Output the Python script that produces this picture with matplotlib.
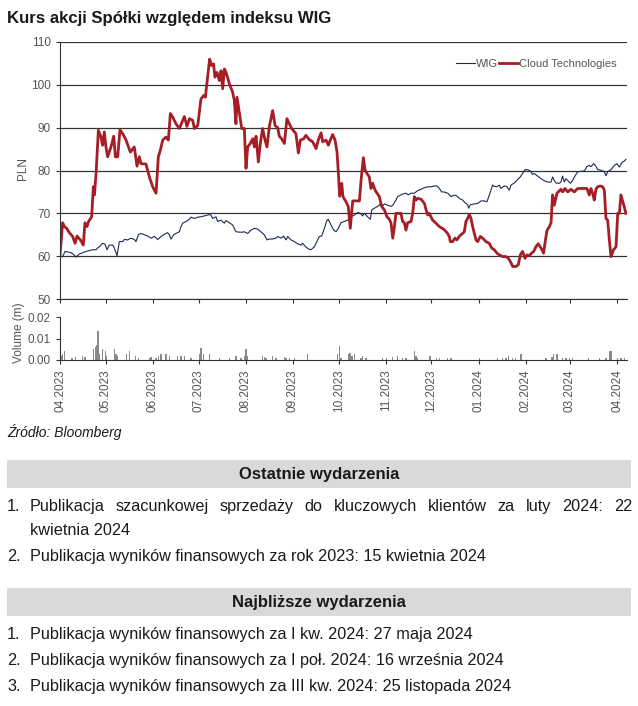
import matplotlib
matplotlib.use("Agg")
import matplotlib.pyplot as plt
import matplotlib.dates as mdates
from matplotlib.font_manager import fontManager
from matplotlib.patches import Rectangle
from matplotlib.ticker import FormatStrFormatter
import numpy as np
import pandas as pd

W, H = 638, 706
START = pd.Timestamp("2023-04-01")
END_DAY = 372.5

# Cloud Technologies close (PLN), days since 2023-04-01
CT_DAYS = [0, 1.75, 2.85, 4.4, 6.1, 8.3, 9.9, 11.2, 13.4, 15.3, 16.4, 17.7, 18.8, 20.8,
           21.9, 22.6, 23.7, 25.2, 26.9, 28.0, 29.1, 30.2, 31.3, 33.5, 35.3, 36.4, 37.9,
           39.4, 41.2, 43.4, 46.2, 48.8, 50.6, 52.1, 53.2, 56.5, 58.7, 60.9, 63.1, 64.6,
           65.9, 67.5, 69.6, 71.2, 72.5, 74.0, 76.2, 78.4, 81.7, 83.4, 85.0, 87.2, 88.3,
           90.5, 92.6, 94.4, 95.5, 97.0, 98.3, 99.6, 100.9, 101.8, 103.2, 104.7, 105.8,
           106.9, 108.0, 109.1, 111.3, 113.4, 114.5, 115.6, 116.3, 117.8, 119.4, 121.1,
           122.2, 123.3, 125.0, 126.6, 127.7, 128.8, 130.3, 131.6, 133.1, 134.7, 136.0,
           137.5, 139.7, 141.3, 143.0, 144.1, 145.6, 147.4, 149.1, 150.7, 152.2, 155.0,
           156.6, 157.9, 160.1, 161.6, 163.8, 166.0, 168.2, 169.7, 171.5, 172.6, 174.8,
           176.3, 177.6, 179.1, 180.7, 182.0, 182.9, 183.7, 185.1, 185.9, 187.9, 189.4,
           190.7, 191.6, 192.3, 196.7, 197.8, 199.3, 200.4, 201.7, 203.2, 204.3, 205.4,
           207.0, 208.3, 209.8, 211.3, 213.1, 214.8, 216.4, 217.5, 218.6, 219.7, 220.7,
           224.0, 225.1, 226.2, 227.3, 228.4, 230.6, 231.7, 232.8, 233.9, 235.0, 237.2,
           239.4, 240.5, 241.6, 242.6, 244.8, 247.0, 249.2, 252.1, 254.2, 255.8, 256.4,
           257.9, 259.5, 260.8, 262.3, 263.4, 264.5, 265.6, 266.7, 267.8, 268.9, 270.0,
           271.1, 272.2, 273.3, 274.4, 276.1, 277.7, 279.8, 282.0, 283.6, 285.3, 287.1,
           288.6, 290.8, 293.0, 294.5, 295.8, 297.4, 299.6, 301.1, 302.4, 303.9, 305.5,
           306.8, 308.3, 309.8, 311.2, 312.7, 314.2, 316.0, 317.7, 318.6, 319.9, 321.5,
           322.6, 323.6, 324.7, 326.5, 327.4, 329.1, 330.2, 331.8, 333.5, 335.7, 337.9,
           340.1, 342.3, 344.5, 346.2, 347.7, 348.8, 349.9, 351.0, 352.1, 353.2, 355.0,
           356.5, 357.6, 358.7, 359.8, 360.9, 362.0, 363.7, 365.3, 366.4, 367.5, 368.5,
           370.1, 371.8]
CT_PLN = [60.3, 67.8, 66.9, 66.5, 65.5, 64.6, 63.0, 64.7, 63.8, 62.6, 67.8, 66.9, 68.1, 69.2,
          76.2, 74.3, 79.3, 89.4, 87.8, 85.9, 89.0, 85.5, 83.2, 85.5, 88.0, 83.2, 83.2,
          89.5, 88.6, 87.1, 84.3, 85.5, 81.0, 83.2, 81.6, 81.5, 78.5, 76.2, 74.7, 83.2,
          84.7, 87.1, 87.8, 87.1, 93.3, 92.5, 90.9, 89.8, 92.6, 90.3, 92.1, 91.7, 89.8,
          90.5, 96.7, 97.5, 97.1, 101.8, 106.0, 104.5, 104.9, 101.8, 102.9, 101.0, 103.3,
          99.1, 103.7, 102.9, 100.2, 98.3, 96.4, 90.9, 97.1, 93.6, 89.8, 89.8,
          80.5, 85.5, 86.3, 87.4, 85.5, 88.0, 82.0, 86.3, 89.8, 87.1, 85.5,
          90.2, 94.0, 90.5, 90.0, 88.0, 87.4, 86.3, 92.1, 90.9, 89.8, 88.6,
          84.1, 87.1, 87.4, 88.2, 87.2, 86.7, 85.1, 87.1, 88.8, 86.7, 87.1,
          85.9, 87.1, 88.4, 87.1, 84.3, 79.3, 74.0, 77.0, 73.9, 72.7, 71.6,
          66.5, 70.0, 72.9, 72.9, 77.8, 83.0, 80.1, 79.3, 78.5, 75.8, 77.0,
          75.4, 74.7, 73.9, 71.6, 70.8, 69.2, 68.6, 67.7, 64.2, 66.9, 70.0,
          70.0, 68.1, 67.8, 66.1, 67.8, 68.1, 70.0, 73.9, 73.1, 73.5, 73.3,
          72.3, 70.8, 69.6, 70.0, 68.4, 67.7, 66.9, 66.3, 65.5, 64.6, 63.4,
          63.4, 64.2, 63.8, 64.6, 65.0, 65.3, 65.7, 68.1, 68.8, 69.8, 68.8,
          66.9, 65.3, 63.8, 63.4, 64.6, 64.2, 63.4, 63.0, 61.9, 61.5, 60.7,
          60.3, 59.9, 59.9, 59.5, 58.8, 57.6, 57.6, 58.0, 60.3, 61.1, 59.5,
          60.3, 60.1, 60.7, 61.1, 62.2, 62.9, 61.9, 60.7, 63.0, 66.0, 66.9,
          67.8, 74.3, 71.9, 74.7, 75.0, 75.6, 75.0, 75.8, 75.0, 75.6, 75.0,
          75.8, 75.8, 75.8, 75.8, 74.3, 75.8, 74.7, 73.1, 75.6, 76.2, 76.4,
          76.2, 75.4, 68.8, 68.4, 63.8, 59.9, 61.5, 62.2, 70.0, 70.0, 74.3,
          72.3, 70.0]

# WIG rebased to PLN
WIG_DAYS = [0, 1.75, 3.3, 5.0, 7.2, 9.0, 10.5, 12.7, 14.9, 17.1, 19.3, 21.4, 23.7, 24.7,
            25.8, 28.0, 29.6, 30.9, 32.4, 34.6, 35.7, 37.5, 39.0, 41.2, 42.3, 44.5, 46.6,
            48.8, 49.9, 51.5, 53.2, 55.4, 57.6, 59.8, 62.0, 64.2, 66.4, 68.6, 70.7, 71.8,
            72.9, 74.7, 76.2, 78.4, 79.5, 80.6, 82.8, 85.0, 86.1, 88.3, 90.5, 92.6, 94.8,
            98.1, 99.2, 100.3, 102.5, 103.6, 105.8, 108.0, 109.1, 111.3, 113.4, 115.6,
            117.8, 120.0, 121.1, 123.3, 125.5, 127.7, 129.9, 132.0, 134.2, 136.0, 137.5,
            139.7, 141.9, 143.0, 145.2, 146.9, 148.5, 149.6, 151.8, 154.0, 156.1, 158.3,
            159.4, 161.6, 163.8, 164.9, 167.1, 169.3, 170.4, 171.9, 173.7, 175.4, 176.3,
            178.0, 179.8, 181.3, 182.9, 184.6, 186.8, 189.0, 191.2, 193.4, 195.6, 197.3,
            198.8, 199.9, 202.1, 203.9, 204.8, 206.5, 208.7, 210.9, 212.0, 213.1, 215.3,
            217.5, 218.6, 220.7, 221.8, 224.0, 225.1, 227.3, 228.8, 230.6, 232.8, 235.0,
            237.2, 239.4, 241.6, 243.7, 245.9, 247.7, 249.2, 250.8, 252.1, 254.7, 256.9,
            258.6, 260.1, 262.3, 264.5, 266.0, 267.8, 268.5, 269.6, 272.2, 274.4, 276.6,
            278.8, 280.5, 282.0, 284.2, 285.3, 287.1, 288.6, 289.7, 291.9, 293.6, 295.2,
            296.3, 298.5, 300.7, 302.4, 303.9, 305.5, 307.2, 309.0, 310.5, 311.6, 313.8,
            316.0, 318.2, 320.4, 322.6, 323.6, 324.7, 325.8, 328.0, 329.1, 330.2, 331.3,
            332.4, 333.5, 335.3, 336.8, 338.3, 340.1, 342.3, 344.5, 346.2, 347.7, 348.8,
            350.6, 352.1, 353.2, 355.0, 356.5, 357.6, 358.7, 359.8, 362.0, 364.2, 365.9,
            367.5, 369.0, 370.7, 371.8]
WIG_PLN = [59.9, 59.9, 61.1, 61.0, 60.8, 60.4, 59.8, 60.5, 60.8, 61.1, 61.3, 61.5, 61.5, 61.9,
           62.2, 63.0, 62.8, 61.5, 62.6, 62.6, 61.9, 60.1, 63.4, 63.4, 63.9, 63.8, 64.2,
           63.9, 63.4, 65.0, 65.3, 65.0, 64.7, 64.2, 64.6, 63.9, 64.6, 65.1, 65.5, 65.0,
           64.0, 65.0, 65.3, 65.7, 66.9, 67.7, 68.1, 68.6, 69.1, 68.8, 69.1, 69.2, 69.4,
           69.7, 69.6, 68.8, 69.2, 68.1, 68.4, 67.7, 68.3, 67.8, 67.3, 65.7,
           65.6, 65.6, 65.7, 65.3, 66.1, 66.5, 66.3, 65.7, 65.0, 63.8, 64.0,
           64.0, 64.2, 64.6, 64.2, 64.7, 63.8, 64.6, 63.8, 63.4, 62.9, 62.6,
           63.0, 62.1, 61.6, 61.5, 62.2, 63.8, 64.6, 64.7, 66.5, 68.4, 68.6,
           67.3, 66.1, 65.7, 66.5, 67.8, 68.1, 68.4, 69.2, 69.6, 70.2, 70.0,
           69.4, 70.0, 69.2, 68.6, 70.8, 71.2, 71.6, 72.3, 71.7, 72.2, 71.9,
           71.6, 71.9, 73.1, 73.9, 74.3, 74.5, 74.7, 74.3, 74.7, 74.7, 75.3,
           75.6, 76.0, 76.2, 76.2, 76.4, 76.4, 75.8, 75.0, 75.0, 74.7, 73.9,
           74.2, 74.2, 73.5, 73.1, 72.5, 72.0, 71.2, 72.0, 72.2, 72.3, 72.9,
           72.9, 72.7, 74.2, 76.6, 76.3, 76.2, 76.6, 75.8, 76.4, 76.2, 75.4,
           76.6, 77.1, 77.9, 78.5, 79.3, 80.2, 80.2, 79.9, 79.1, 79.3, 78.7,
           78.1, 77.6, 77.3, 77.3, 78.5, 77.7, 77.1, 77.0, 77.3, 78.7, 77.3,
           78.1, 77.7, 77.0, 77.7, 78.7, 79.7, 79.8, 79.9, 80.9, 81.2, 80.9,
           81.6, 81.0, 80.2, 80.1, 79.9, 79.7, 78.8, 79.7, 80.2, 81.2, 81.6,
           80.8, 81.8, 82.2, 82.6]

# daily volume (m shares)
VOL_DAYS = [0.6, 1.7, 2.8, 7.9, 10.1, 14.9, 16.4, 22.1, 23.2, 24.1, 25.0, 25.8, 28.0, 29.8,
            30.6, 35.7, 36.8, 37.9, 43.8, 45.5, 49.5, 51.6, 58.7, 59.8, 63.0, 64.8, 66.3,
            69.6, 71.8, 77.3, 79.5, 81.7, 86.0, 91.5, 92.6, 94.2, 98.1, 104.7, 111.3, 115.6,
            118.9, 121.1, 122.2, 123.3, 133.2, 134.3, 135.3, 139.7, 141.9, 147.4, 148.5,
            150.7, 154.0, 162.7, 182.4, 183.5, 184.6, 189.6, 190.5, 191.8, 193.3, 197.7,
            198.8, 201.0, 211.9, 214.6, 218.5, 221.8, 225.1, 227.3, 232.8, 233.9, 235.0,
            243.1, 247.4, 249.2, 254.7, 256.9, 275.5, 287.5, 290.8, 293.0, 294.7, 297.4,
            299.1, 302.8, 319.3, 323.2, 324.3, 326.5, 330.2, 332.4, 334.6, 336.8, 347.3,
            354.3, 358.7, 360.9, 362.0, 366.4, 368.5, 370.7]
VOL_M = [0.002, 0.003, 0.004, 0.001, 0.0015, 0.002, 0.0015, 0.005, 0.006, 0.007, 0.0137,
         0.003, 0.005, 0.004, 0.002, 0.005, 0.003, 0.002, 0.003, 0.004, 0.002, 0.001,
         0.001, 0.0015, 0.001, 0.002, 0.003, 0.003, 0.002, 0.002, 0.002, 0.002, 0.001,
         0.003, 0.0055, 0.003, 0.003, 0.001, 0.001, 0.002, 0.001, 0.002, 0.005, 0.002,
         0.002, 0.0015, 0.001, 0.002, 0.001, 0.0015, 0.001, 0.001, 0.001, 0.003, 0.003,
         0.0066, 0.001, 0.003, 0.0035, 0.002, 0.003, 0.001, 0.002, 0.001, 0.001, 0.001,
         0.0015, 0.002, 0.001, 0.001, 0.004, 0.002, 0.001, 0.002, 0.001, 0.001, 0.001,
         0.001, 0.001, 0.001, 0.001, 0.001, 0.002, 0.001, 0.001, 0.003, 0.001, 0.0015,
         0.003, 0.003, 0.001, 0.001, 0.001, 0.001, 0.001, 0.001, 0.001, 0.004, 0.004,
         0.001, 0.001, 0.001]

TITLE = "Kurs akcji Spółki względem indeksu WIG"
SOURCE = "Źródło: Bloomberg"
RECENT_HEAD = "Ostatnie wydarzenia"
RECENT = [
    ("1.", "Publikacja szacunkowej sprzedaży do kluczowych klientów za luty 2024: 22",
     "kwietnia 2024"),
    ("2.", "Publikacja wyników finansowych za rok 2023: 15 kwietnia 2024", None),
]
UPCOMING_HEAD = "Najbliższe wydarzenia"
UPCOMING = [
    ("1.", "Publikacja wyników finansowych za I kw. 2024: 27 maja 2024", None),
    ("2.", "Publikacja wyników finansowych za I poł. 2024: 16 września 2024", None),
    ("3.", "Publikacja wyników finansowych za III kw. 2024: 25 listopada 2024", None),
]

RED = "#a51d25"
NAVY = "#1d2a55"
GREY_TXT = "#555555"
LINE = "#333333"
INK = "#1a1a1a"

names = {f.name for f in fontManager.ttflist}
NARROW = "Liberation Sans Narrow" if "Liberation Sans Narrow" in names else "Liberation Sans"
plt.rcParams["font.family"] = [NARROW, "DejaVu Sans"]


def to_dates(days):
    return START + pd.to_timedelta(np.asarray(days), unit="D")


def fx(x):
    return x / W


def fy(y):
    return 1 - y / H


fig = plt.figure(figsize=(W / 100, H / 100), dpi=100)

ax = fig.add_axes([fx(60), fy(299), 567 / W, 257 / H])
axv = fig.add_axes([fx(60), fy(360), 567 / W, 42.7 / H], sharex=ax)

ax.plot(to_dates(WIG_DAYS), WIG_PLN, color=NAVY, lw=0.8, label="WIG")
ax.plot(to_dates(CT_DAYS), CT_PLN, color=RED, lw=2.0, label="Cloud Technologies")
ax.set_ylim(50, 110)
ax.set_yticks(range(50, 111, 10))
ax.grid(axis="y", color=LINE, lw=0.9)
for s in ("top", "right"):
    ax.spines[s].set_visible(False)
for s in ("left", "bottom"):
    ax.spines[s].set_color(LINE)
ax.tick_params(direction="out", length=3, color=LINE, labelsize=8.5, labelcolor=GREY_TXT)
ax.tick_params(axis="x", labelbottom=False)
ax.legend(loc="center right", bbox_to_anchor=((617 - 60) / 567, (299 - 64) / 257),
          ncol=2, frameon=False, fontsize=8, handlelength=1.7, handletextpad=0.1,
          columnspacing=0.1, borderaxespad=0, borderpad=0, labelcolor=GREY_TXT)

axv.bar(to_dates(VOL_DAYS), VOL_M, width=0.8, color="#8a8a8a")
axv.set_ylim(0, 0.02)
axv.set_yticks([0, 0.01, 0.02])
axv.yaxis.set_major_formatter(FormatStrFormatter("%.2f"))
axv.xaxis.set_major_locator(mdates.MonthLocator())
axv.xaxis.set_major_formatter(mdates.DateFormatter("%m.%Y"))
axv.set_xlim(START, START + pd.Timedelta(days=END_DAY))
for s in ("top", "right"):
    axv.spines[s].set_visible(False)
for s in ("left", "bottom"):
    axv.spines[s].set_color(LINE)
axv.tick_params(direction="out", length=3, color=LINE, labelsize=8.5, labelcolor=GREY_TXT)
plt.setp(axv.get_xticklabels(), rotation=90)

fig.text(fx(23), fy(168), "PLN", rotation=90, ha="center", va="center",
         fontsize=8.5, color=GREY_TXT)
fig.text(fx(19), fy(333), "Volume (m)", rotation=90, ha="center", va="center",
         fontsize=8.5, color=GREY_TXT)

fig.text(fx(7), fy(19), TITLE, ha="left", va="center", fontsize=12.1,
         fontweight="bold", color=INK)
fig.text(fx(7), fy(432), SOURCE, ha="left", va="center", fontsize=10,
         style="italic", color=INK)

renderer = fig.canvas.get_renderer()
ITEM_SIZE = 11.7


def item_text(x, base, s):
    return fig.text(fx(x), fy(base), s, ha="left", va="baseline",
                    fontsize=ITEM_SIZE, color=INK)


def justified(base, text, x0, x1):
    words = text.split()
    ts = [item_text(0, base, w) for w in words]
    widths = [t.get_window_extent(renderer).width for t in ts]
    gap = (x1 - x0 - sum(widths)) / (len(words) - 1)
    x = x0
    for t, w in zip(ts, widths):
        t.set_x(fx(x))
        x += w + gap


def section(y_band, head, items):
    fig.add_artist(Rectangle((fx(7), fy(y_band + 14)), 624 / W, 28 / H,
                             transform=fig.transFigure, color="#d9d9d9", lw=0, zorder=0))
    fig.text(fx(319), fy(y_band), head, ha="center", va="center", fontsize=12,
             fontweight="bold", color=INK)
    base = y_band + 37
    for num, line, cont in items:
        item_text(7, base, num)
        if cont:
            justified(base, line, 30, 632)
            base += 24
            item_text(30, base, cont)
        else:
            item_text(30, base, line)
        base += 26


section(474, RECENT_HEAD, RECENT)
section(602, UPCOMING_HEAD, UPCOMING)

fig.savefig("out.png", dpi=100)
